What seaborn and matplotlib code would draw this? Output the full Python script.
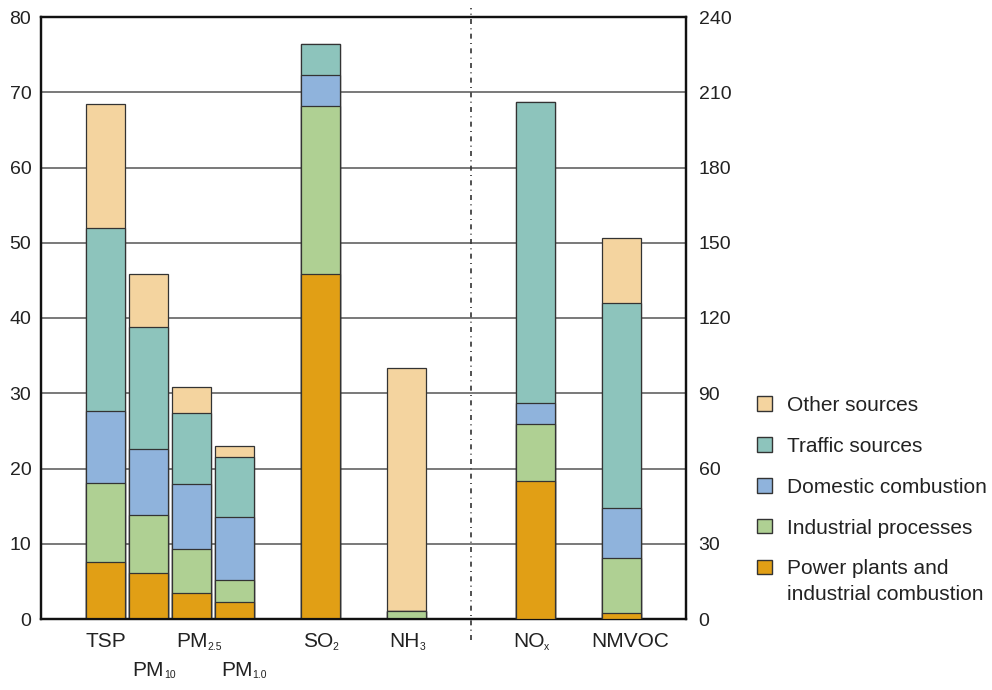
import matplotlib
matplotlib.use("Agg")
import matplotlib.pyplot as plt
from matplotlib.patches import Patch
import numpy as np
import seaborn as sns

# Emission sources (bottom to top of each stack) and their fill colours
sources = ["Power plants and\nindustrial combustion", "Industrial processes",
           "Domestic combustion", "Traffic sources", "Other sources"]
colors = ["#E19F15", "#AFD093", "#8FB3DC", "#8DC4BC", "#F4D49F"]

# Pollutants read against the left axis (0-80)
left_pos = [0, 1, 2, 3, 5, 7]
left_power = [7.6, 6.1, 3.5, 2.2, 45.9, 0.0]
left_industrial = [10.5, 7.7, 5.8, 3.0, 22.3, 1.1]
left_domestic = [9.5, 8.8, 8.6, 8.4, 4.1, 0.0]
left_traffic = [24.3, 16.2, 9.5, 7.9, 4.1, 0.0]
left_other = [16.5, 7.0, 3.4, 1.5, 0.0, 32.3]

# Pollutants read against the right axis (0-240)
right_pos = [10, 12]
right_power = [55.0, 2.4]
right_industrial = [22.7, 21.9]
right_domestic = [8.4, 20.0]
right_traffic = [119.9, 81.7]
right_other = [0.0, 25.9]

# Category labels: main text, subscript, label row (0 = upper, 1 = lower)
tick_main = ["TSP", "PM", "PM", "PM", "SO", "NH", "NO", "NMVOC"]
tick_sub = ["", "10", "2.5", "1.0", "2", "3", "x", ""]
tick_row = [0, 1, 0, 1, 0, 0, 0, 0]
# small horizontal nudges of the labels, in points
tick_nudge = [0, 0, 0, 1.5, -2, -1.5, -5, 6.5]

left_ticks = list(range(0, 81, 10))
right_ticks = list(range(0, 241, 30))

EDGE = "#333333"
BAR_W = 0.93

sns.set_theme(style="white")
plt.rcParams["font.family"] = ["Liberation Sans", "DejaVu Sans"]
plt.rcParams["text.color"] = "#222222"

fig = plt.figure(figsize=(9.92, 6.9), dpi=100)
ax = fig.add_axes([41 / 992, 1 - 619 / 690, 645 / 992, 602 / 690])
ax2 = ax.twinx()


def stacked(axis, pos, layers, width):
    tops = np.cumsum(np.array(layers, dtype=float), axis=0)
    for k in range(len(layers) - 1, -1, -1):
        sns.barplot(x=pos, y=tops[k], native_scale=True, orient="x",
                    color=colors[k], saturation=1, width=width,
                    edgecolor=EDGE, linewidth=0.9, errorbar=None,
                    ax=axis, zorder=3)


stacked(ax, left_pos,
        [left_power, left_industrial, left_domestic, left_traffic, left_other],
        BAR_W)
# the right-hand categories are two units apart, so halve the relative width
stacked(ax2, right_pos,
        [right_power, right_industrial, right_domestic, right_traffic, right_other],
        BAR_W / 2)

ax.set_xlim(-1.5, 13.5)
ax.set_ylim(0, 80)
ax2.set_ylim(0, 240)
ax.set_yticks(left_ticks)
ax2.set_yticks(right_ticks)
ax.set_xticks([])
ax2.set_xticks([])
ax.set_xlabel("")
ax.set_ylabel("")
ax2.set_ylabel("")

ax.set_axisbelow(True)
ax.yaxis.grid(True, color="#555555", linewidth=1.1)
ax.xaxis.grid(False)
ax2.grid(False)

ax.tick_params(axis="y", length=0, pad=7, labelsize=14, labelcolor="#222222")
ax2.tick_params(axis="y", length=0, pad=9, labelsize=14, labelcolor="#222222")

for a in (ax, ax2):
    for sp in a.spines.values():
        sp.set_color("#111111")
        sp.set_linewidth(1.6)
        sp.set_visible(True)

# dash-dot separator between the two axis groups
ax.plot([8.5, 8.5], [-2.8, 81.2], color="#333333", linewidth=1.2,
        linestyle=(0, (3, 2.6, 0.6, 2.6)), clip_on=False, zorder=4)

# category labels with small subscripts, staggered in two rows
xform = ax.get_xaxis_transform()
all_pos = left_pos + right_pos
for p, m, s, r, nx in zip(all_pos, tick_main, tick_sub, tick_row, tick_nudge):
    dy = -16.5 if r == 0 else -37
    t = ax.annotate(m, xy=(p, 0), xycoords=xform, xytext=(nx, dy),
                    textcoords="offset points", ha="center", va="center",
                    fontsize=15, annotation_clip=False)
    if s:
        ax.annotate(s, xy=(1, 0), xycoords=t, xytext=(0, -0.3),
                    textcoords="offset points", ha="left", va="bottom",
                    fontsize=7.5, annotation_clip=False)

handles = [Patch(facecolor=c, edgecolor=EDGE, linewidth=1.0, label=l)
           for c, l in zip(colors, sources)][::-1]
leg = fig.legend(handles=handles, loc="upper left",
                 bbox_to_anchor=(757 / 992, 1 - 396 / 690),
                 frameon=False, fontsize=15, handlelength=0.72,
                 handleheight=0.72, handletextpad=0.72, labelspacing=1.05,
                 borderpad=0, borderaxespad=0)
for txt in leg.get_texts():
    txt.set_linespacing(1.45)
# keep each swatch level with the first line of its label
for column in leg._legend_handle_box.get_children():
    for entry in column.get_children():
        entry.align = "top"

fig.savefig("out.png", dpi=100)
